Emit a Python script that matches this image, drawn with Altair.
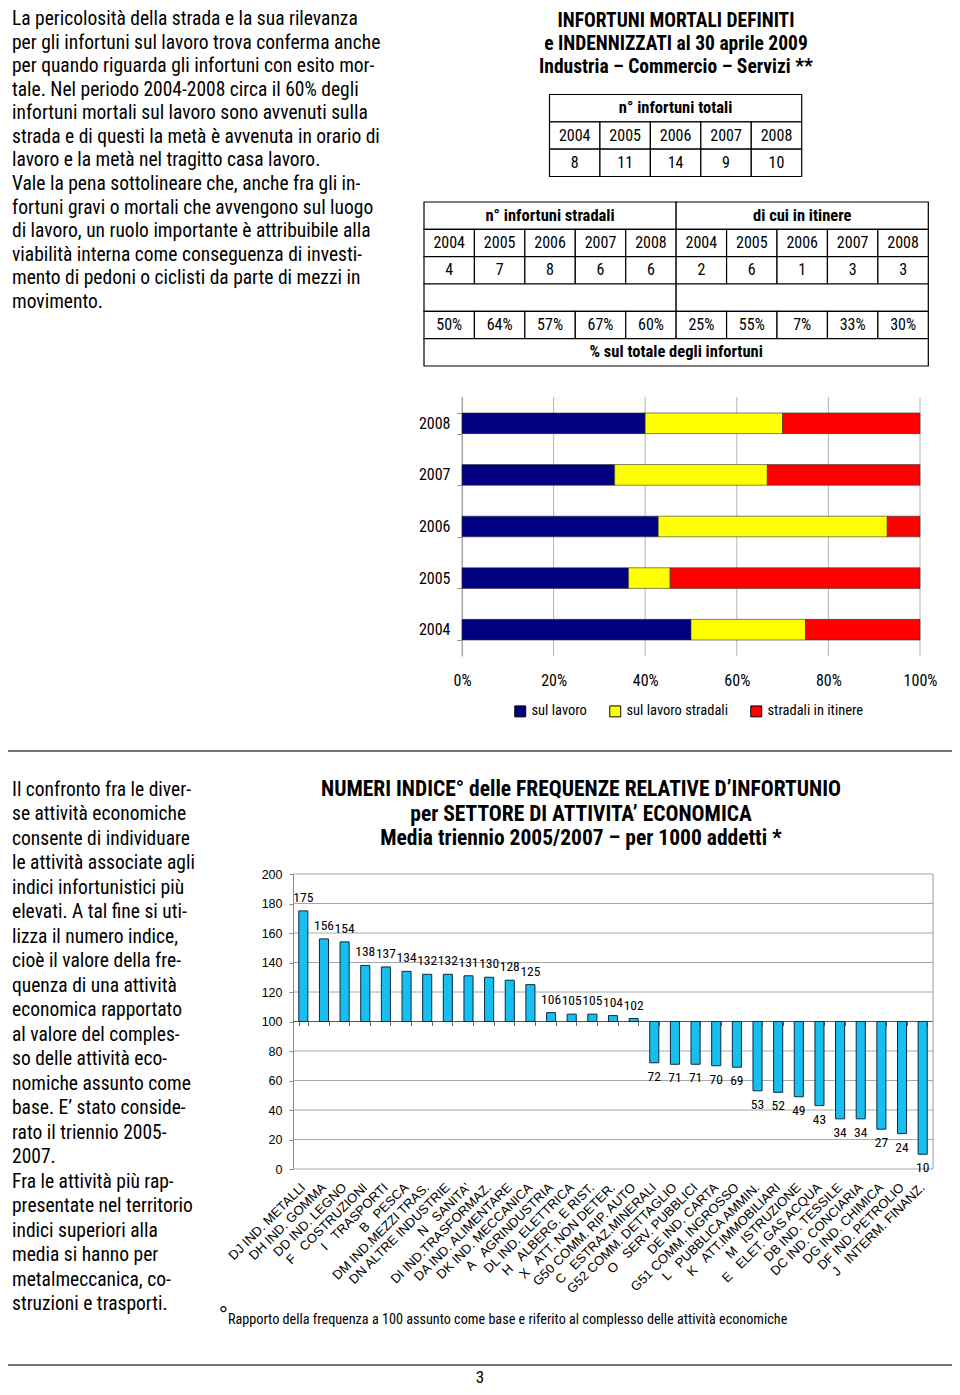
import altair as alt
import pandas as pd

OFF = 8          # page margin
W, H = 944, 1379  # canvas size

NARROW = "Liberation Sans Narrow, Arial Narrow, Roboto Condensed, Liberation Sans, Arial, sans-serif"
ARIAL = "Liberation Sans, Arial, sans-serif"
NB = "\u00a0\u00a0\u00a0"  # wide gap after one-letter sector codes

# ---------------- text content ----------------
para1 = [
    "La pericolosità della strada e la sua rilevanza",
    "per gli infortuni sul lavoro trova conferma anche",
    "per quando riguarda gli infortuni con esito mor-",
    "tale. Nel periodo 2004-2008 circa il 60% degli",
    "infortuni mortali sul lavoro sono avvenuti sulla",
    "strada e di questi la metà è avvenuta in orario di",
    "lavoro e la metà nel tragitto casa lavoro.",
    "Vale la pena sottolineare che, anche fra gli in-",
    "fortuni gravi o mortali che avvengono sul luogo",
    "di lavoro, un ruolo importante è attribuibile alla",
    "viabilità interna come conseguenza di investi-",
    "mento di pedoni o ciclisti da parte di mezzi in",
    "movimento.",
]
para2 = [
    "Il confronto fra le diver-",
    "se attività economiche",
    "consente di individuare",
    "le attività associate agli",
    "indici infortunistici più",
    "elevati. A tal fine si uti-",
    "lizza il numero indice,",
    "cioè il valore della fre-",
    "quenza di una attività",
    "economica rapportato",
    "al valore del comples-",
    "so delle attività eco-",
    "nomiche assunto come",
    "base. E’ stato conside-",
    "rato il triennio 2005-",
    "2007.",
    "Fra le attività più rap-",
    "presentate nel territorio",
    "indici superiori alla",
    "media si hanno per",
    "metalmeccanica, co-",
    "struzioni e trasporti.",
]
title1 = [
    "INFORTUNI MORTALI DEFINITI",
    "e INDENNIZZATI al 30 aprile 2009",
    "Industria – Commercio – Servizi **",
]
title2 = [
    "NUMERI INDICE° delle FREQUENZE RELATIVE D’INFORTUNIO",
    "per SETTORE DI ATTIVITA’ ECONOMICA",
    "Media triennio 2005/2007 – per 1000 addetti *",
]
footnote = "Rapporto della frequenza a 100 assunto come base e riferito al complesso delle attività economiche"
page_number = "3"

# ---------------- table data ----------------
years = ["2004", "2005", "2006", "2007", "2008"]
totali = [8, 11, 14, 9, 10]
stradali = [4, 7, 8, 6, 6]
itinere = [2, 6, 1, 3, 3]
pct_stradali = ["50%", "64%", "57%", "67%", "60%"]
pct_itinere = ["25%", "55%", "7%", "33%", "30%"]

# ---------------- stacked bar data ----------------
series = ["sul lavoro", "sul lavoro stradali", "stradali in itinere"]
series_colors = ["#000080", "#FFFF00", "#FF0000"]
sul_lavoro = [4, 4, 6, 3, 4]
sul_lavoro_stradali = [2, 1, 7, 3, 3]
stradali_itinere = [2, 6, 1, 3, 3]
pct_ticks = [0, 0.2, 0.4, 0.6, 0.8, 1.0]

# ---------------- index bar data ----------------
sectors = [
    "DJ IND. METALLI", "DH IND. GOMMA", "DD IND. LEGNO", "F" + NB + "COSTRUZIONI", "I" + NB + "TRASPORTI",
    "B" + NB + "PESCA", "DM IND.MEZZI TRAS.", "DN ALTRE INDUSTRIE", "N" + NB + "SANITA'", "DI IND.TRASFORMAZ.",
    "DA IND. ALIMENTARE", "DK IND. MECCANICA", "A" + NB + "AGRINDUSTRIA", "DL IND. ELETTRICA",
    "H" + NB + "ALBERG. E RIST.", "X" + NB + "ATT. NON DETER.", "G50 COMM. RIP. AUTO", "C" + NB + "ESTRAZ.MINERALI",
    "G52 COMM. DETTAGLIO", "O" + NB + "SERV. PUBBLICI", "DE IND. CARTA", "G51 COMM. INGROSSO",
    "L" + NB + "PUBBLICA AMMIN.", "K" + NB + "ATT.IMMOBILIARI", "M" + NB + "ISTRUZIONE", "E" + NB + "ELET. GAS ACQUA",
    "DB IND. TESSILE", "DC IND. CONCIARIA", "DG IND. CHIMICA", "DF IND. PETROLIO",
    "J" + NB + "INTERM. FINANZ.",
]
index_values = [175, 156, 154, 138, 137, 134, 132, 132, 131, 130, 128, 125,
                106, 105, 105, 104, 102, 72, 71, 71, 70, 69,
                53, 52, 49, 43, 34, 34, 27, 24, 10]
index_base = 100
index_ticks = [0, 20, 40, 60, 80, 100, 120, 140, 160, 180, 200]


def P(v):
    return v - OFF


def text_block(lines, x, y0, dy, size, weight="normal", align="left", font=NARROW):
    n = len(lines)
    span = max(n - 1, 1)
    df = pd.DataFrame({"i": list(range(n)), "t": lines})
    return alt.Chart(df).mark_text(
        align=align, baseline="middle", fontSize=size, fontWeight=weight, font=font, color="black"
    ).encode(
        x=alt.value(P(x)),
        y=alt.Y("i:Q", scale=alt.Scale(domain=[0, span], range=[P(y0), P(y0 + dy * span)], nice=False, zero=False), axis=None),
        text="t:N",
    )


def table(cells, ncols, nrows, x0, x1, y0, y1, size=16, hsize=16.5):
    df = pd.DataFrame(cells, columns=["c0", "c1", "r0", "r1", "label", "bold"])
    xs = alt.Scale(domain=[0, ncols], range=[P(x0), P(x1)], nice=False, zero=False)
    ys = alt.Scale(domain=[0, nrows], range=[P(y0), P(y1)], nice=False, zero=False)
    base = alt.Chart(df)
    rect = base.mark_rect(fill="white", stroke="black", strokeWidth=1.2).encode(
        x=alt.X("c0:Q", scale=xs, axis=None), x2="c1:Q",
        y=alt.Y("r0:Q", scale=ys, axis=None), y2="r1:Q",
    )
    tb = base.transform_calculate(cx="(datum.c0+datum.c1)/2", cy="(datum.r0+datum.r1)/2")
    enc = dict(x=alt.X("cx:Q", scale=xs, axis=None), y=alt.Y("cy:Q", scale=ys, axis=None), text="label:N")
    t_norm = tb.transform_filter("!datum.bold").mark_text(font=NARROW, fontSize=size, baseline="middle").encode(**enc)
    t_bold = tb.transform_filter("datum.bold").mark_text(font=NARROW, fontSize=hsize, fontWeight="bold", baseline="middle").encode(**enc)
    return [rect, t_norm, t_bold]


# table 1 cells
cells1 = [(0, 5, 0, 1, "n° infortuni totali", True)]
cells1 += [(i, i + 1, 1, 2, y, False) for i, y in enumerate(years)]
cells1 += [(i, i + 1, 2, 3, str(v), False) for i, v in enumerate(totali)]

# table 2 cells
cells2 = [(0, 5, 0, 1, "n° infortuni stradali", True), (5, 10, 0, 1, "di cui in itinere", True)]
cells2 += [(i, i + 1, 1, 2, y, False) for i, y in enumerate(years + years)]
cells2 += [(i, i + 1, 2, 3, str(v), False) for i, v in enumerate(stradali + itinere)]
cells2 += [(0, 5, 3, 4, "", False), (5, 10, 3, 4, "", False)]
cells2 += [(i, i + 1, 4, 5, p, False) for i, p in enumerate(pct_stradali + pct_itinere)]
cells2 += [(0, 10, 5, 6, "% sul totale degli infortuni", True)]

tab1 = table(cells1, 5, 3, 549.5, 801.7, 94.5, 176.5)
tab2 = table(cells2, 10, 6, 424, 928.3, 202, 366)

# ---------------- stacked chart ----------------
rows = []
for k, (s, vals) in enumerate(zip(series, [sul_lavoro, sul_lavoro_stradali, stradali_itinere])):
    for y, v in zip(years, vals):
        rows.append({"year": y, "serie": s, "val": v, "ord": k})
stack_df = pd.DataFrame(rows)

sx = alt.Scale(domain=[0, 1], range=[P(462), P(920)], nice=False, zero=False)
sy = alt.Scale(domain=years[::-1], range=[P(397), P(656)], paddingInner=0.6, paddingOuter=0.31)

stack_grid = alt.Chart(pd.DataFrame({"t": pct_ticks})).mark_rule(color="#B4B4B4", strokeWidth=1).encode(
    x=alt.X("t:Q", scale=sx, axis=None), y=alt.value(P(397)), y2=alt.value(P(656)))

stacked = alt.Chart(stack_df).mark_bar(stroke="#333", strokeWidth=0.6).encode(
    x=alt.X("val:Q", stack="normalize", scale=sx,
            axis=alt.Axis(orient="bottom", offset=P(656) - H, format="%", values=pct_ticks,
                          grid=False, domain=False, ticks=False, labelPadding=16, labelFlush=False,
                          labelFont=NARROW, labelFontSize=16, labelColor="black", title=None)),
    y=alt.Y("year:N", scale=sy,
            axis=alt.Axis(orient="left", offset=-P(462), tickBand="extent", domainColor="#888", tickColor="#888",
                          tickSize=5, labelPadding=7, labelFont=NARROW, labelFontSize=16, labelColor="black",
                          title=None, grid=False)),
    color=alt.Color("serie:N", scale=alt.Scale(domain=series, range=series_colors),
                    legend=alt.Legend(orient="none", legendX=P(513), legendY=P(704), direction="horizontal",
                                      title=None, symbolType="square", symbolSize=120, symbolStrokeColor="black",
                                      symbolStrokeWidth=1, labelFont=NARROW, labelFontSize=14.5, labelColor="black",
                                      columnPadding=20, labelLimit=0)),
    order=alt.Order("ord:Q"),
)

# ---------------- index bar chart ----------------
bar_df = pd.DataFrame({"settore": sectors, "val": index_values})
xs = alt.Scale(domain=sectors, range=[P(293), P(933)], paddingInner=0.56, paddingOuter=0.28)
ys = alt.Scale(domain=[0, 200], range=[P(1169), P(874)], nice=False, zero=False)
base_px = P(1169) - (P(1169) - P(874)) * index_base / 200.0

index_grid = alt.Chart(pd.DataFrame({"t": index_ticks})).mark_rule(color="#A8A8A8", strokeWidth=1).encode(
    y=alt.Y("t:Q", scale=ys, axis=None), x=alt.value(P(293)), x2=alt.value(P(933)))

bars = alt.Chart(bar_df).mark_bar(fill="#18BFEE", stroke="#0B2B45", strokeWidth=1).encode(
    x=alt.X("settore:N", sort=None, scale=xs,
            axis=alt.Axis(orient="bottom", offset=P(1169) - H, labelAngle=315, labelAlign="right",
                          labelBaseline="middle", labelPadding=16, ticks=False, domain=False,
                          labelFont=ARIAL, labelFontSize=13, labelColor="black", title=None,
                          labelLimit=0, labelOverlap=False, grid=False)),
    y=alt.Y("val:Q", scale=ys,
            axis=alt.Axis(orient="left", offset=-P(293), values=index_ticks, grid=False,
                          domainColor="#888", tickColor="#888", tickSize=4, labelOverlap=False,
                          labelPadding=7, labelFont=ARIAL, labelFontSize=12.5, labelColor="black", title=None)),
    y2=alt.datum(index_base),
)
lab_enc = dict(y=alt.Y("val:Q", scale=ys, axis=None), text="val:Q")
above = alt.Chart(bar_df).transform_filter(f"datum.val >= {index_base}").mark_text(
    dy=-13, font=NARROW, fontSize=13.5, baseline="middle").encode(
    x=alt.X("settore:N", sort=None, scale=xs,
            axis=alt.Axis(orient="bottom", offset=base_px - H, labels=False, domain=False, ticks=True,
                          tickBand="extent", tickSize=4, tickColor="#666", grid=False, title=None)),
    **lab_enc)
below = alt.Chart(bar_df).transform_filter(f"datum.val < {index_base}").mark_text(
    dy=14, font=NARROW, fontSize=13.5, baseline="middle").encode(
    x=alt.X("settore:N", sort=None, scale=xs, axis=None), **lab_enc)
base_rule = alt.Chart(pd.DataFrame({"b": [index_base]})).mark_rule(color="#555", strokeWidth=1.2).encode(
    y=alt.Y("b:Q", scale=ys, axis=None), x=alt.value(P(293)), x2=alt.value(P(933)))
frame_rule = alt.Chart(pd.DataFrame({"lo": [0], "hi": [200]})).mark_rule(color="#999", strokeWidth=1).encode(
    y=alt.Y("lo:Q", scale=ys, axis=None), y2="hi:Q", x=alt.value(P(933)))

# ---------------- page furniture ----------------
sep1 = alt.Chart(pd.DataFrame({"k": [0]})).mark_rule(color="#444", strokeWidth=1.5).encode(
    x=alt.value(0), x2=alt.value(P(955)), y=alt.value(P(751)))
sep2 = alt.Chart(pd.DataFrame({"k": [0]})).mark_rule(color="#444", strokeWidth=1.5).encode(
    x=alt.value(0), x2=alt.value(P(958)), y=alt.value(P(1365)))

layers = [
    text_block(para1, 12, 19, 23.58, 19.5),
    text_block(title1, 676, 21, 23, 19.5, weight="bold", align="center"),
    *tab1, *tab2,
    stack_grid, stacked,
    sep1,
    text_block(para2, 12, 790, 24.48, 19.5),
    text_block(title2, 581, 790, 24.5, 21.5, weight="bold", align="center"),
    index_grid, base_rule, frame_rule, bars, above, below,
    text_block(["°"], 219, 1315, 10, 22, font=ARIAL),
    text_block([footnote], 228, 1320, 10, 14.2),
    sep2,
    text_block([page_number], 480, 1378, 10, 17, align="center"),
]

chart = alt.layer(*layers).resolve_scale(
    x="independent", y="independent", color="independent"
).properties(
    width=W, height=H, padding=0, autosize=alt.AutoSizeParams(type="none")
).configure_view(stroke=None)

chart.save("out.html", embed_options={"renderer": "svg", "actions": False})
